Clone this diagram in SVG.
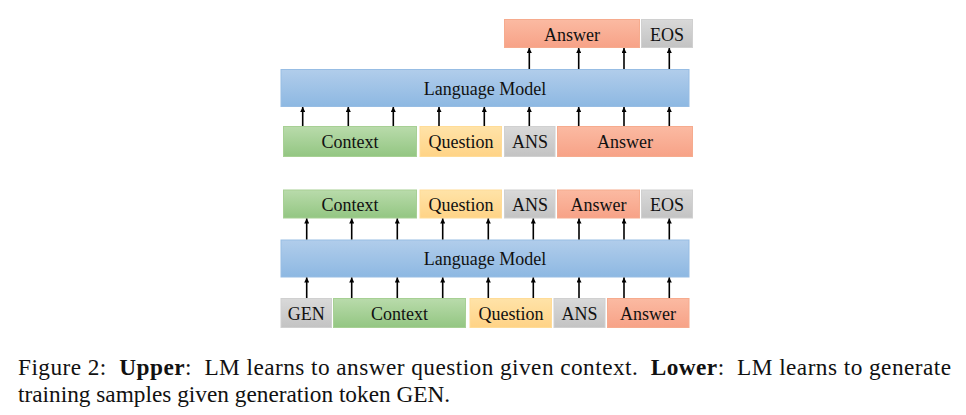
<svg xmlns="http://www.w3.org/2000/svg" width="966" height="415" viewBox="0 0 966 415">
<defs>
<linearGradient id="gGreen" x1="0" y1="0" x2="0" y2="1"><stop offset="0" stop-color="#b9dbab"/><stop offset="1" stop-color="#93c682"/></linearGradient>
<linearGradient id="gYellow" x1="0" y1="0" x2="0" y2="1"><stop offset="0" stop-color="#ffe3a8"/><stop offset="1" stop-color="#ffd386"/></linearGradient>
<linearGradient id="gGray" x1="0" y1="0" x2="0" y2="1"><stop offset="0" stop-color="#d9d9d9"/><stop offset="1" stop-color="#c3c3c3"/></linearGradient>
<linearGradient id="gSalmon" x1="0" y1="0" x2="0" y2="1"><stop offset="0" stop-color="#fbbaa2"/><stop offset="1" stop-color="#f7a287"/></linearGradient>
<linearGradient id="gBlue" x1="0" y1="0" x2="0" y2="1"><stop offset="0" stop-color="#b1cdeb"/><stop offset="1" stop-color="#8db8e2"/></linearGradient>
<marker id="arr" viewBox="0 0 10 10" refX="10" refY="5" markerWidth="5" markerHeight="5" markerUnits="userSpaceOnUse" orient="auto"><path d="M0,0 L10,5 L0,10 z" fill="#000"/></marker>
</defs>
<style>
.t{font-family:"Liberation Serif","Times New Roman",serif;font-size:18px;fill:#111;text-anchor:middle}
.green{fill:url(#gGreen);stroke:#a7d094;stroke-width:1}
.yellow{fill:url(#gYellow);stroke:#ffdc98;stroke-width:1}
.gray{fill:url(#gGray);stroke:#d0d0d0;stroke-width:1}
.salmon{fill:url(#gSalmon);stroke:#f6ab8e;stroke-width:1}
.blue{fill:url(#gBlue);stroke:#97bde4;stroke-width:1}
.c line{stroke:#000;stroke-width:1.6;marker-end:url(#arr)}
.cap{font-family:"Liberation Serif","Times New Roman",serif;font-size:23.3px;fill:#111;white-space:pre}
</style>
<rect width="966" height="415" fill="#fff"/>

<!-- Upper diagram -->
<g id="up_answer_out"><rect class="salmon" x="504.5" y="19.5" width="135" height="28"/><text class="t" x="572" y="40.5">Answer</text></g>
<g id="up_eos_out"><rect class="gray" x="641.5" y="19.5" width="51" height="28"/><text class="t" x="667" y="40.5">EOS</text></g>
<g id="up_lm"><rect class="blue" x="281" y="69.5" width="408" height="37"/><text class="t" x="485" y="94.5">Language Model</text></g>
<g id="up_context"><rect class="green" x="283.5" y="126.5" width="133" height="30"/><text class="t" x="350" y="148">Context</text></g>
<g id="up_question"><rect class="yellow" x="420" y="126.5" width="81.5" height="30"/><text class="t" x="461" y="148">Question</text></g>
<g id="up_ans"><rect class="gray" x="504.5" y="126.5" width="50.5" height="30"/><text class="t" x="530" y="148">ANS</text></g>
<g id="up_answer"><rect class="salmon" x="557.5" y="126.5" width="135" height="30"/><text class="t" x="625" y="148">Answer</text></g>

<!-- Lower diagram -->
<g id="lo_context_out"><rect class="green" x="283.5" y="190" width="133" height="28"/><text class="t" x="350" y="211">Context</text></g>
<g id="lo_question_out"><rect class="yellow" x="420" y="190" width="81.5" height="28"/><text class="t" x="461" y="211">Question</text></g>
<g id="lo_ans_out"><rect class="gray" x="504.5" y="190" width="50.5" height="28"/><text class="t" x="530" y="211">ANS</text></g>
<g id="lo_answer_out"><rect class="salmon" x="557.5" y="190" width="82" height="28"/><text class="t" x="598.5" y="211">Answer</text></g>
<g id="lo_eos_out"><rect class="gray" x="641.5" y="190" width="51" height="28"/><text class="t" x="667" y="211">EOS</text></g>
<g id="lo_lm"><rect class="blue" x="281" y="240" width="408" height="37"/><text class="t" x="485" y="265">Language Model</text></g>
<g id="lo_gen"><rect class="gray" x="281" y="298.5" width="50.5" height="29"/><text class="t" x="306.3" y="319.5">GEN</text></g>
<g id="lo_context"><rect class="green" x="333.5" y="298.5" width="132" height="29"/><text class="t" x="399.5" y="319.5">Context</text></g>
<g id="lo_question"><rect class="yellow" x="470" y="298.5" width="81.5" height="29"/><text class="t" x="511" y="319.5">Question</text></g>
<g id="lo_ans"><rect class="gray" x="554" y="298.5" width="51" height="29"/><text class="t" x="579.5" y="319.5">ANS</text></g>
<g id="lo_answer"><rect class="salmon" x="607.5" y="298.5" width="81.5" height="29"/><text class="t" x="648" y="319.5">Answer</text></g>

<g id="connectors" class="c">
<line x1="302.7" y1="126" x2="302.7" y2="107"/>
<line x1="348.3" y1="126" x2="348.3" y2="107"/>
<line x1="393.3" y1="126" x2="393.3" y2="107"/>
<line x1="439" y1="126" x2="439" y2="107"/>
<line x1="484.3" y1="126" x2="484.3" y2="107"/>
<line x1="529.3" y1="126" x2="529.3" y2="107"/>
<line x1="578.7" y1="126" x2="578.7" y2="107"/>
<line x1="624" y1="126" x2="624" y2="107"/>
<line x1="669.3" y1="126" x2="669.3" y2="107"/>
<line x1="529.3" y1="69" x2="529.3" y2="48"/>
<line x1="578.7" y1="69" x2="578.7" y2="48"/>
<line x1="624" y1="69" x2="624" y2="48"/>
<line x1="669.3" y1="69" x2="669.3" y2="48"/>
<line x1="306.7" y1="239.5" x2="306.7" y2="218.5"/>
<line x1="351.7" y1="239.5" x2="351.7" y2="218.5"/>
<line x1="397.3" y1="239.5" x2="397.3" y2="218.5"/>
<line x1="442.7" y1="239.5" x2="442.7" y2="218.5"/>
<line x1="488.3" y1="239.5" x2="488.3" y2="218.5"/>
<line x1="533.3" y1="239.5" x2="533.3" y2="218.5"/>
<line x1="579" y1="239.5" x2="579" y2="218.5"/>
<line x1="624" y1="239.5" x2="624" y2="218.5"/>
<line x1="669.3" y1="239.5" x2="669.3" y2="218.5"/>
<line x1="306.7" y1="298" x2="306.7" y2="277.5"/>
<line x1="351.7" y1="298" x2="351.7" y2="277.5"/>
<line x1="397.3" y1="298" x2="397.3" y2="277.5"/>
<line x1="442.7" y1="298" x2="442.7" y2="277.5"/>
<line x1="488.3" y1="298" x2="488.3" y2="277.5"/>
<line x1="533.3" y1="298" x2="533.3" y2="277.5"/>
<line x1="579" y1="298" x2="579" y2="277.5"/>
<line x1="624" y1="298" x2="624" y2="277.5"/>
<line x1="669.3" y1="298" x2="669.3" y2="277.5"/>
</g>

<text class="cap" x="18" y="375" textLength="933" lengthAdjust="spacing">Figure 2:  <tspan font-weight="bold">Upper</tspan>:  LM learns to answer question given context.  <tspan font-weight="bold">Lower</tspan>:  LM learns to generate</text>
<text class="cap" x="18" y="402">training samples given generation token GEN.</text>
</svg>
